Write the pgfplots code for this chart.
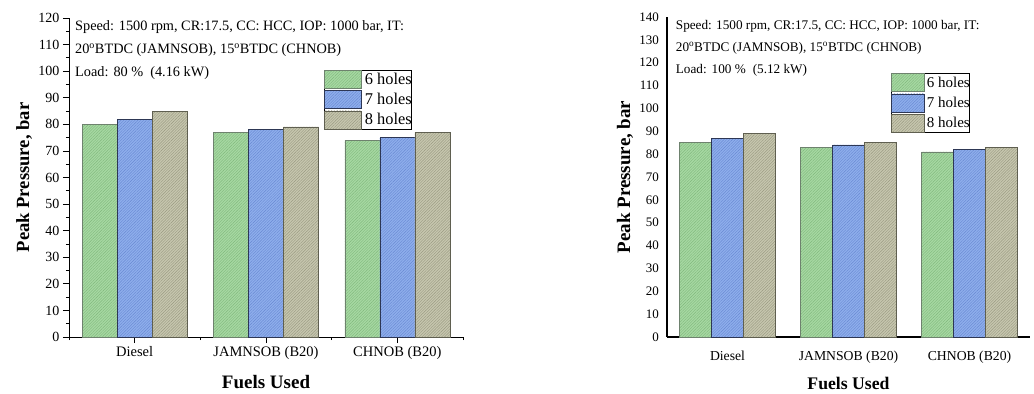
\documentclass[border=0pt]{standalone}
\usepackage{fontspec}
\setmainfont{Liberation Serif}
\usepackage{pgfplots}
\usepackage{pgfplotstable}
\pgfplotsset{compat=1.18}
\usetikzlibrary{patterns.meta}

\definecolor{gfill}{RGB}{166,216,162}
\definecolor{ghatch}{RGB}{128,184,124}
\definecolor{gedge}{RGB}{110,130,110}
\definecolor{bfill}{RGB}{142,174,236}
\definecolor{bhatch}{RGB}{104,136,210}
\definecolor{bedge}{RGB}{45,55,85}
\definecolor{tfill}{RGB}{198,198,174}
\definecolor{thatch}{RGB}{152,152,128}
\definecolor{tedge}{RGB}{95,95,80}

% Peak pressure (bar) at 80 % load
\pgfplotstableread{
x six seven eight
1 80 82 85
2 77 78 79
3 74 75 77
}\loadeighty

% Peak pressure (bar) at 100 % load
\pgfplotstableread{
x six seven eight
1 85 87 89
2 83 84 85
3 81 82 83
}\loadfull

\newcommand{\fs}[1]{\fontsize{#1bp}{1.2\dimexpr#1bp\relax}\selectfont}

\pgfplotsset{
  holessix/.style={fill=gfill, draw=gedge, line width=0.6bp,
    postaction={pattern={Lines[angle=45,distance=2bp,line width=0.4bp]}, pattern color=ghatch}},
  holesseven/.style={fill=bfill, draw=bedge, line width=0.6bp,
    postaction={pattern={Lines[angle=45,distance=2bp,line width=0.4bp]}, pattern color=bhatch}},
  holeseight/.style={fill=tfill, draw=tedge, line width=0.6bp,
    postaction={pattern={Lines[angle=45,distance=2bp,line width=0.4bp]}, pattern color=thatch}},
  swatch/.style={legend image code/.code={\draw[##1] (0bp,-9bp) rectangle (#1,9bp);}},
  peakaxis/.style={
    scale only axis, anchor=south west,
    ybar=0pt, xmin=0.5, xmax=3.5, ymin=0,
    axis x line*=bottom, axis y line*=left,
    axis line style={black, line width=0.9bp},
    xtick={1,2,3}, xticklabels={Diesel, JAMNSOB (B20), CHNOB (B20)},
    /pgf/number format/assume math mode=true,
    legend cell align=left,
    clip=false,
  },
}

\begin{document}
\begin{tikzpicture}
\path[use as bounding box] (0,0) rectangle (1034bp,394bp);

% ---- 80 % load ----
\begin{axis}[peakaxis,
  at={(69bp,57bp)}, width=394bp, height=319bp,
  bar width=35bp, ymax=120,
  ytick={0,10,...,120}, minor ytick={5,15,...,115},
  minor xtick={0.5,1.5,2.5,3.5},
  tick align=outside, major tick length=6bp, minor tick length=3bp,
  tick style={black, line width=0.8bp},
  yticklabel style={font=\fs{14}},
  xticklabel style={font=\fs{14.5}},
  ylabel={\bfseries Peak Pressure, bar},
  ylabel style={font=\fs{18.6}, at={(axis description cs:-0.114,0.5)}, anchor=center},
  xlabel={\bfseries Fuels Used},
  xlabel style={font=\fs{19}, at={(axis description cs:0.5,-0.14)}, anchor=center},
  legend style={at={(rel axis cs:0.647,0.837)}, anchor=north west,
    draw=black, line width=0.6bp, inner sep=0pt, row sep=1.6bp, column sep=0pt,
    font=\fs{16.4}, nodes={inner xsep=0pt, inner ysep=0pt}},
]
\addplot[holessix, swatch=37bp] table[x=x, y=six] {\loadeighty};
\addplot[holesseven, swatch=37bp] table[x=x, y=seven] {\loadeighty};
\addplot[holeseight, swatch=37bp] table[x=x, y=eight] {\loadeighty};
\legend{\hspace{3bp}6 holes, \hspace{3bp}7 holes, \hspace{3bp}8 holes}
\node[anchor=base west, inner sep=0pt, font=\fs{14.3}] at (rel axis cs:0.0152,0.960)
  {Speed: 1500 rpm, CR:17.5, CC: HCC, IOP: 1000 bar, IT:};
\node[anchor=base west, inner sep=0pt, font=\fs{14.3}] at (rel axis cs:0.0152,0.889)
  {20\textsuperscript{o}BTDC (JAMNSOB), 15\textsuperscript{o}BTDC (CHNOB)};
\node[anchor=base west, inner sep=0pt, font=\fs{14.3}] at (rel axis cs:0.0152,0.818)
  {Load:\hspace{5bp}80 \%\hspace{7bp}(4.16 kW)};
\end{axis}

% ---- 100 % load ----
\begin{axis}[peakaxis,
  at={(667bp,57bp)}, width=363bp, height=320bp,
  bar width=32bp, ymax=140,
  ytick={0,10,...,140},
  major tick length=0pt, minor tick length=0pt,
  axis line style={black, line width=1.2bp},
  yticklabel style={font=\fs{13}, xshift=-4.5bp},
  xticklabel style={font=\fs{13.7}, yshift=-10bp},
  ylabel={\bfseries Peak Pressure, bar},
  ylabel style={font=\fs{19}, at={(axis description cs:-0.116,0.5)}, anchor=center},
  xlabel={\bfseries Fuels Used},
  xlabel style={font=\fs{17.7}, at={(axis description cs:0.5,-0.144)}, anchor=center},
  legend style={at={(rel axis cs:0.617,0.825)}, anchor=north west,
    draw=black, line width=0.6bp, inner sep=0pt, row sep=1.8bp, column sep=0pt,
    font=\fs{15}, nodes={inner xsep=0pt, inner ysep=0pt}},
]
\addplot[holessix, swatch=33bp] table[x=x, y=six] {\loadfull};
\addplot[holesseven, swatch=33bp] table[x=x, y=seven] {\loadfull};
\addplot[holeseight, swatch=33bp] table[x=x, y=eight] {\loadfull};
\legend{\hspace{2bp}6 holes, \hspace{2bp}7 holes, \hspace{2bp}8 holes}
\node[anchor=base west, inner sep=0pt, font=\fs{13.2}] at (rel axis cs:0.024,0.9616)
  {Speed: 1500 rpm, CR:17.5, CC: HCC, IOP: 1000 bar, IT:};
\node[anchor=base west, inner sep=0pt, font=\fs{13.2}] at (rel axis cs:0.024,0.8916)
  {20\textsuperscript{o}BTDC (JAMNSOB), 15\textsuperscript{o}BTDC (CHNOB)};
\node[anchor=base west, inner sep=0pt, font=\fs{13.2}] at (rel axis cs:0.024,0.824)
  {Load:\hspace{5bp}100 \%\hspace{7bp}(5.12 kW)};
\end{axis}
\end{tikzpicture}
\end{document}
